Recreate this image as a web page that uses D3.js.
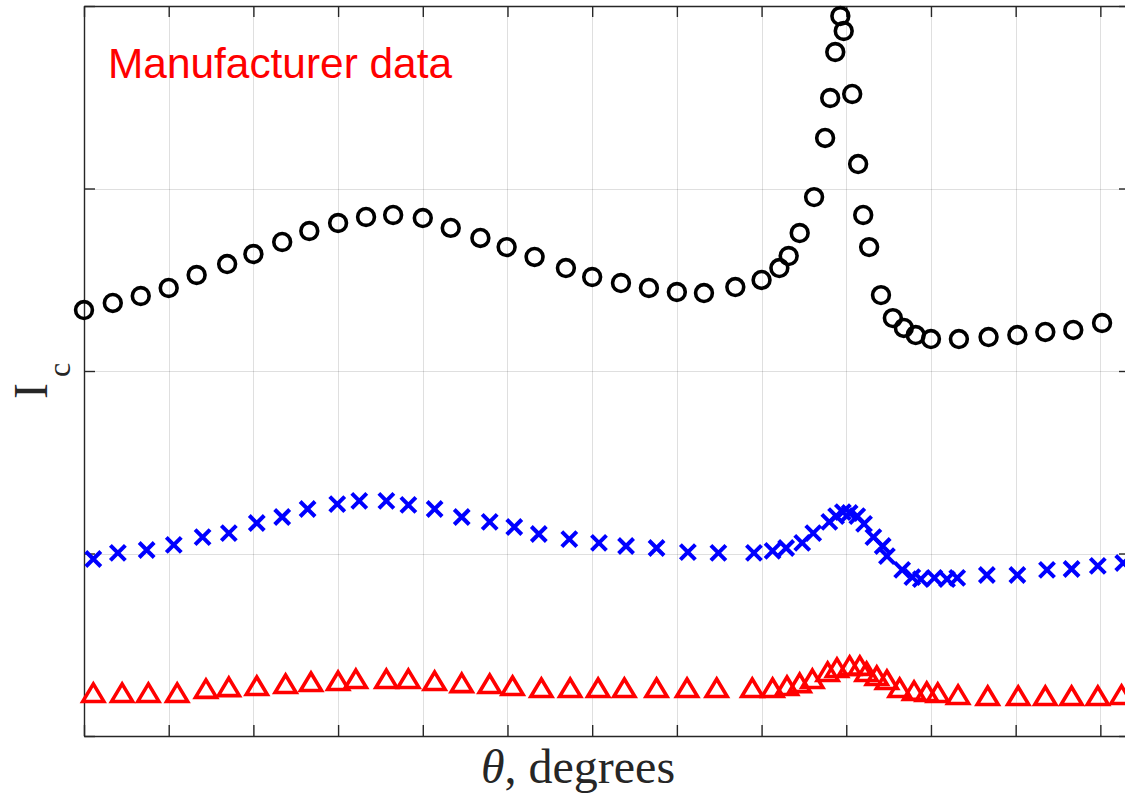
<!DOCTYPE html>
<html>
<head>
<meta charset="utf-8">
<script src="https://cdn.jsdelivr.net/npm/d3@7"></script>
<style>
  body { margin: 0; background: #fff; }
  svg { display: block; }
</style>
</head>
<body>
<svg id="canvas"></svg>
<script>
// theta (degrees) and Ic, one pair of arrays per series
const thetaCircle = [0, 3.4, 6.7, 10, 13.3, 16.9, 20, 23.4, 26.6, 30, 33.3, 36.5, 40, 43.3, 46.8, 49.9, 53.2, 56.9, 60, 63.4, 66.7, 70, 73.2, 76.9, 80, 82.1, 83.2, 84.5, 86.2, 87.5, 88.1, 88.7, 89.3, 89.7, 90.7, 91.4, 92, 92.7, 94.1, 95.5, 96.8, 98.2, 100, 103.3, 106.8, 110.2, 113.5, 116.8, 120.2]
const icCircle = [2.334, 2.373, 2.411, 2.455, 2.526, 2.586, 2.641, 2.707, 2.767, 2.811, 2.844, 2.855, 2.838, 2.784, 2.729, 2.679, 2.625, 2.564, 2.515, 2.482, 2.455, 2.433, 2.427, 2.46, 2.499, 2.564, 2.63, 2.756, 2.953, 3.277, 3.496, 3.748, 3.945, 3.863, 3.518, 3.134, 2.855, 2.679, 2.416, 2.29, 2.236, 2.197, 2.175, 2.175, 2.186, 2.197, 2.214, 2.225, 2.263]

const thetaCross = [1.1, 4.0, 7.4, 10.6, 14.0, 17.1, 20.4, 23.4, 26.4, 29.9, 32.5, 35.7, 38.3, 41.4, 44.6, 47.9, 50.8, 53.7, 57.3, 60.8, 64.0, 67.6, 71.3, 74.9, 79.1, 81.3, 82.9, 84.8, 86.1, 88.0, 88.8, 89.6, 90.4, 91.3, 92.1, 93.2, 94.3, 94.8, 96.6, 97.8, 98.8, 100.4, 101.9, 103.1, 106.6, 110.2, 113.7, 116.6, 119.7, 122.7]
const icCross = [0.97, 1.003, 1.019, 1.047, 1.09, 1.112, 1.167, 1.2, 1.244, 1.271, 1.288, 1.288, 1.266, 1.244, 1.2, 1.173, 1.145, 1.107, 1.079, 1.058, 1.041, 1.03, 1.008, 1.003, 1.003, 1.014, 1.03, 1.058, 1.112, 1.173, 1.205, 1.227, 1.222, 1.205, 1.162, 1.09, 1.041, 0.986, 0.91, 0.871, 0.86, 0.866, 0.86, 0.866, 0.882, 0.882, 0.91, 0.915, 0.932, 0.948]

const thetaTri = [1.1, 4.5, 7.6, 11.0, 14.4, 17.1, 20.4, 23.8, 26.8, 30.0, 32.1, 35.7, 38.3, 41.4, 44.6, 47.9, 50.6, 54.0, 57.4, 60.7, 63.8, 67.6, 71.2, 74.7, 78.9, 81.3, 83.0, 84.5, 86.0, 87.8, 88.9, 90.4, 91.6, 92.4, 93.6, 94.8, 96.3, 98.0, 99.5, 100.8, 103.2, 106.7, 110.3, 113.5, 116.6, 119.7, 122.5]
const icTri = [0.236, 0.236, 0.236, 0.236, 0.258, 0.268, 0.274, 0.285, 0.296, 0.301, 0.312, 0.312, 0.312, 0.301, 0.29, 0.285, 0.274, 0.263, 0.263, 0.263, 0.263, 0.263, 0.263, 0.263, 0.263, 0.263, 0.274, 0.29, 0.312, 0.351, 0.373, 0.384, 0.384, 0.351, 0.329, 0.307, 0.263, 0.247, 0.241, 0.236, 0.225, 0.219, 0.219, 0.219, 0.219, 0.219, 0.225]

const xTicks = [0, 10, 20, 30, 40, 50, 60, 70, 80, 90, 100, 110, 120]
const yTicks = [0, 1, 2, 3, 4]

let width = 1125,
height = 795

let plotLeft = 84, plotRight = 1130, plotTop = 6, plotBottom = 736

let canvas = d3.select('#canvas')
.attr('width', width)
.attr('height', height)

let x = d3.scaleLinear().domain([0, 123.5]).range([plotLeft, plotRight])
let y = d3.scaleLinear().domain([0, 4]).range([plotBottom, plotTop])

let axisColor = '#262626'

let zip = (a, b) => a.map((v, i) => [v, b[i]])

let drawGrid = () => {
    let grid = canvas.append('g').attr('stroke', axisColor).attr('stroke-opacity', 0.15).attr('stroke-width', 1)

    grid.selectAll('.vgrid')
    .data(xTicks)
    .enter().append('line')
    .attr('x1', d => Math.round(x(d)) + 0.5)
    .attr('x2', d => Math.round(x(d)) + 0.5)
    .attr('y1', plotTop)
    .attr('y2', plotBottom)

    grid.selectAll('.hgrid')
    .data(yTicks)
    .enter().append('line')
    .attr('x1', plotLeft)
    .attr('x2', plotRight)
    .attr('y1', d => Math.round(y(d)) + 0.5)
    .attr('y2', d => Math.round(y(d)) + 0.5)
}

let drawAxes = () => {
    let tick = -11
    let axes = [
        [d3.axisBottom(x).tickValues(xTicks), `translate(0,${plotBottom})`],
        [d3.axisTop(x).tickValues(xTicks), `translate(0,${plotTop})`],
        [d3.axisLeft(y).tickValues(yTicks), `translate(${plotLeft},0)`],
        [d3.axisRight(y).tickValues(yTicks), `translate(${plotRight},0)`]
    ]
    axes.forEach(([ax, tr]) => {
        let g = canvas.append('g')
        .attr('transform', tr)
        .call(ax.tickSize(tick).tickSizeOuter(0).tickFormat(''))
        g.select('.domain').attr('stroke', axisColor).attr('stroke-width', 1.4)
        g.selectAll('.tick line').attr('stroke', axisColor).attr('stroke-width', 1.4)
    })
}

let drawData = () => {
    canvas.append('g')
    .selectAll('circle')
    .data(zip(thetaCircle, icCircle))
    .enter().append('circle')
    .attr('cx', d => x(d[0]))
    .attr('cy', d => y(d[1]))
    .attr('r', 8.4)
    .attr('fill', 'none')
    .attr('stroke', '#000')
    .attr('stroke-width', 3.6)

    canvas.append('g')
    .selectAll('path')
    .data(zip(thetaCross, icCross))
    .enter().append('path')
    .attr('transform', d => `translate(${x(d[0])},${y(d[1])})`)
    .attr('d', 'M-7.5,-7.5L7.5,7.5M-7.5,7.5L7.5,-7.5')
    .attr('fill', 'none')
    .attr('stroke', '#0000ff')
    .attr('stroke-width', 4)

    canvas.append('g')
    .selectAll('path')
    .data(zip(thetaTri, icTri))
    .enter().append('path')
    .attr('transform', d => `translate(${x(d[0])},${y(d[1])})`)
    .attr('d', 'M0,-9L10.5,8.5L-10.5,8.5Z')
    .attr('fill', 'none')
    .attr('stroke', '#ff0000')
    .attr('stroke-width', 3.6)
}

let drawLabels = () => {
    let xl = canvas.append('text')
    .attr('x', 578)
    .attr('y', 783)
    .attr('text-anchor', 'middle')
    .attr('font-family', '"Liberation Serif", "Times New Roman", serif')
    .attr('font-size', 48)
    .attr('fill', axisColor)
    xl.append('tspan').attr('font-style', 'italic').text('θ')
    xl.append('tspan').text(', degrees')

    let yl = canvas.append('text')
    .attr('transform', 'translate(47,399) rotate(-90)')
    .attr('font-family', '"Liberation Serif", "Times New Roman", serif')
    .attr('font-size', 48)
    .attr('fill', axisColor)
    yl.append('tspan').text('I')
    yl.append('tspan').attr('dx', 6).attr('dy', 23).attr('font-size', 32).text('c')

    canvas.append('text')
    .attr('x', 108)
    .attr('y', 78)
    .attr('font-family', '"Liberation Sans", Arial, sans-serif')
    .attr('font-size', 42.4)
    .attr('fill', '#ff0000')
    .text('Manufacturer data')
}

drawGrid()
drawAxes()
drawData()
drawLabels()
</script>
</body>
</html>
